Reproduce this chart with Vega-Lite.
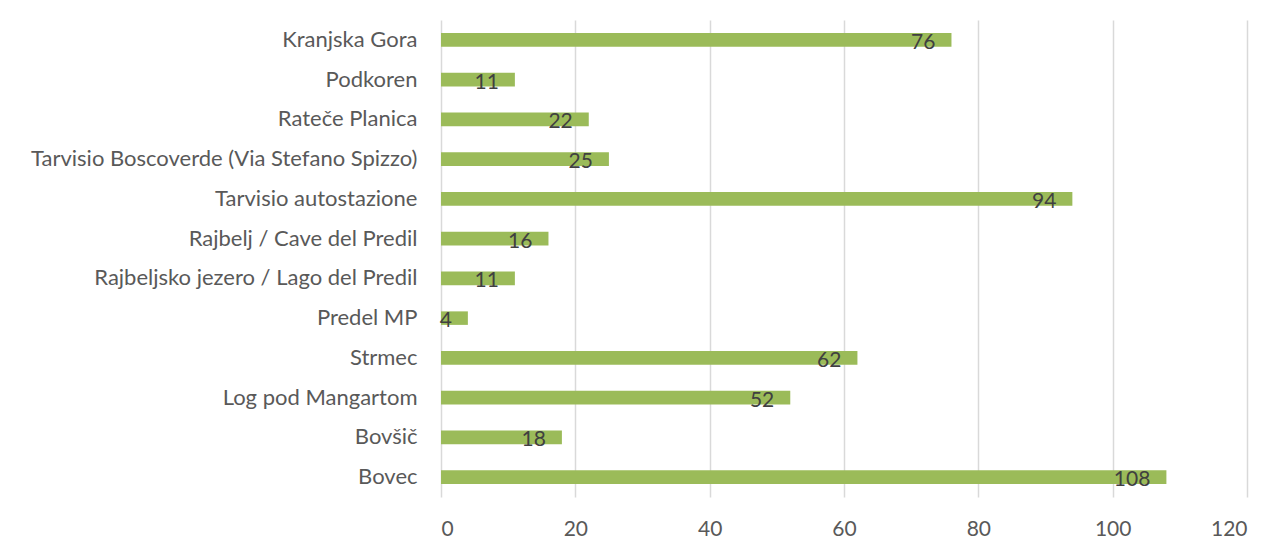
{
  "$schema": "https://vega.github.io/schema/vega-lite/v6.json",
  "autosize": {"type": "none"},
  "width": 806,
  "height": 477,
  "padding": {"left": 441, "top": 20, "right": 21, "bottom": 42},
  "background": "white",
  "config": {"view": {"stroke": null}, "font": "Lato"},
  "data": {"values": [
    {"stop": "Kranjska Gora", "count": 76},
    {"stop": "Podkoren", "count": 11},
    {"stop": "Rateče Planica", "count": 22},
    {"stop": "Tarvisio Boscoverde (Via Stefano Spizzo)", "count": 25},
    {"stop": "Tarvisio autostazione", "count": 94},
    {"stop": "Rajbelj / Cave del Predil", "count": 16},
    {"stop": "Rajbeljsko jezero / Lago del Predil", "count": 11},
    {"stop": "Predel MP", "count": 4},
    {"stop": "Strmec", "count": 62},
    {"stop": "Log pod Mangartom", "count": 52},
    {"stop": "Bovšič", "count": 18},
    {"stop": "Bovec", "count": 108}
  ]},
  "encoding": {
    "y": {
      "field": "stop", "type": "nominal", "sort": null,
      "scale": {"paddingInner": 0.66, "paddingOuter": 0.33},
      "axis": {"title": null, "domain": false, "ticks": false, "labelFontSize": 22, "labelColor": "#595959", "labelPadding": 24, "labelLimit": 0}
    },
    "x": {
      "field": "count", "type": "quantitative",
      "scale": {"domain": [0, 120], "nice": false},
      "axis": {"title": null, "values": [0, 20, 40, 60, 80, 100, 120], "domain": false, "ticks": false, "grid": true, "gridColor": "#D9D9D9", "gridWidth": 1.5, "labelFontSize": 21, "labelColor": "#595959", "labelPadding": 21}
    }
  },
  "layer": [
    {"mark": {"type": "bar", "color": "#9BBB59"}},
    {"mark": {"type": "text", "align": "right", "baseline": "middle", "dx": -16, "dy": 3, "fontSize": 21, "color": "#404040"},
     "encoding": {"text": {"field": "count", "type": "quantitative"}}}
  ]
}
